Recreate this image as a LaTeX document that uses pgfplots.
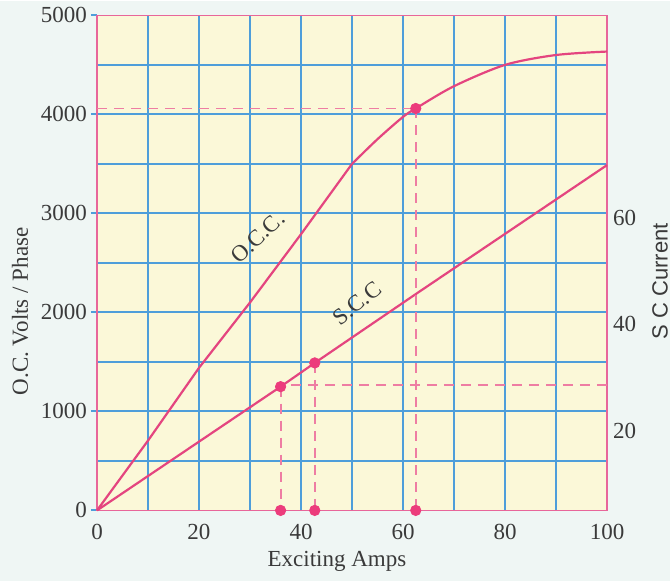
\documentclass[border=0pt]{standalone}
\usepackage{pgfplots}
\pgfplotsset{compat=1.18}
\usepackage{fontspec}
\setmainfont{Liberation Serif}
\setsansfont{Liberation Sans}
\definecolor{curve}{HTML}{E4457F}
\definecolor{markc}{HTML}{EC3C7C}
\definecolor{dashc}{HTML}{EE7DA3}
\definecolor{gridblue}{HTML}{4E9EDA}
\definecolor{framec}{HTML}{E8669A}
\definecolor{innerbg}{HTML}{FBF8D8}
\definecolor{outerbg}{HTML}{EFF6F4}
\definecolor{txt}{HTML}{3A3A3A}
\begin{document}
\fontsize{11.5}{13.5}\selectfont
\begin{tikzpicture}
\fill[outerbg] (-48.5pt,-35.5pt) rectangle (286.5pt,254.5pt);
\begin{axis}[
  at={(0,0)}, anchor=south west,
  scale only axis, width=255pt, height=247.5pt,
  xmin=0, xmax=100, ymin=0, ymax=5000,
  clip=false,
  axis background/.style={fill=innerbg},
  axis line style={draw=framec, line width=0.8pt},
  xtick={0,20,...,100},
  ytick={0,1000,...,5000},
  tick align=outside, major tick length=3pt,
  xtick style={draw=none},
  ytick style={draw=gridblue, line width=1pt},
  ytick pos=left, xtick pos=bottom,
  /pgf/number format/assume math mode=true,
  /pgf/number format/1000 sep={},
  tick label style={font=\fontsize{11.5}{13.5}\selectfont, text=txt},
  yticklabel style={xshift=2pt},
]
% grid
\pgfplotsinvokeforeach{10,20,...,90}{\draw[gridblue, line width=1pt] (axis cs:#1,0) -- (axis cs:#1,5000);}
\pgfplotsinvokeforeach{500,1000,...,4500}{\draw[gridblue, line width=1pt] (axis cs:0,#1) -- (axis cs:100,#1);}
\draw[framec, line width=0.8pt] (axis cs:0,0) rectangle (axis cs:100,5000);
% O.C.C.
\addplot[curve, line width=1.1pt] coordinates {(0,0) (10,705) (20,1440) (30,2100) (40,2790) (50,3500)};
\addplot[curve, line width=1.1pt, smooth] coordinates {(50,3500) (55,3750) (60,3975) (62.5,4060) (70,4285) (80,4500) (90,4600) (100,4635)};
% S.C.C.
\addplot[curve, line width=1.1pt] coordinates {(0,0) (36,1250) (42.7,1490) (62.7,2192) (100,3488)};
% dashed construction lines
\addplot[dashc, line width=0.9pt, dash pattern=on 5pt off 3.5pt] coordinates {(0,4060) (62.5,4060)};
\addplot[dashc, line width=0.9pt, dash pattern=on 5pt off 3.5pt] coordinates {(62.5,4060) (62.5,0)};
\addplot[dashc, line width=0.9pt, dash pattern=on 5pt off 3.5pt] coordinates {(36,1250) (36,0)};
\addplot[dashc, line width=0.9pt, dash pattern=on 5pt off 3.5pt] coordinates {(42.7,1490) (42.7,0)};
\addplot[dashc, line width=0.9pt, dash pattern=on 5pt off 3.5pt] coordinates {(38,1265) (100,1265)};
% markers
\addplot[only marks, mark=*, mark size=2.6pt, color=markc] coordinates {(62.5,4060) (36,1250) (42.7,1490) (36,0) (42.7,0) (62.5,0)};
\node[rotate=43, text=txt, font=\fontsize{11.5}{13.5}\selectfont, inner sep=0pt] at (axis cs:31.5,2760) {O.C.C.};
\node[rotate=39, text=txt, font=\fontsize{11.5}{13.5}\selectfont, inner sep=0pt] at (axis cs:51.0,2090) {S.C.C};
\end{axis}
\begin{axis}[
  at={(0,0)}, anchor=south west,
  scale only axis, width=255pt, height=247.5pt,
  xmin=0, xmax=100, ymin=5.1, ymax=97.9,
  axis x line=none, axis y line*=right,
  y axis line style={draw=none},
  ytick={20,40,60}, ytick style={draw=none},
  /pgf/number format/assume math mode=true,
  tick label style={font=\fontsize{11.5}{13.5}\selectfont, text=txt},
  yticklabel style={xshift=-1pt},
]
\end{axis}
\node[rotate=90, text=txt, inner sep=0pt] at (-38.5pt,99.5pt) {O.C. Volts / Phase};
\node[text=txt, inner sep=0pt] at (120pt,-25.5pt) {Exciting Amps};
\node[rotate=90, text=txt, inner sep=0pt, font=\sffamily\fontsize{11}{13}\selectfont] at (281.5pt,114.5pt) {S C Current};
\path (-48.5pt,-35.5pt) rectangle (286.5pt,254.5pt);
\end{tikzpicture}
\end{document}
